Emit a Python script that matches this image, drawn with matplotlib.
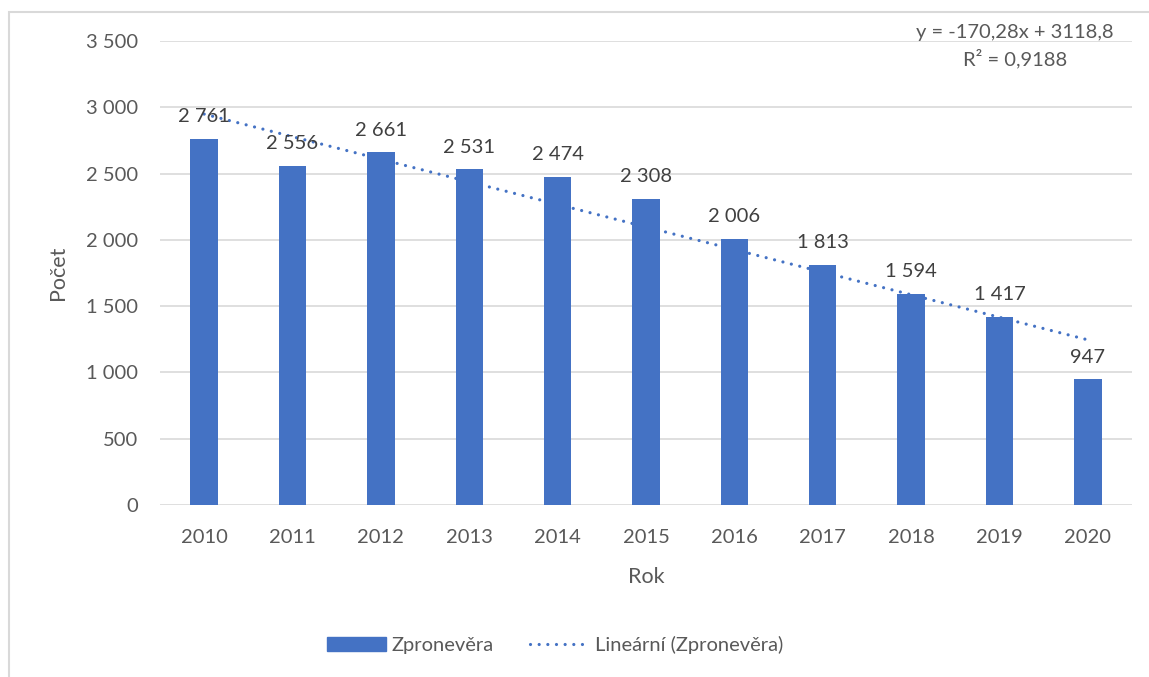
import numpy as np
import matplotlib.pyplot as plt
from matplotlib.patches import Rectangle
from matplotlib.lines import Line2D

plt.rcParams['font.family'] = ['Lato', 'DejaVu Sans']

years = ["2010", "2011", "2012", "2013", "2014", "2015",
         "2016", "2017", "2018", "2019", "2020"]
counts = [2761, 2556, 2661, 2531, 2474, 2308, 2006, 1813, 1594, 1417, 947]

# linear trend as reported by the spreadsheet (x = 1..11)
slope = -170.28
intercept = 3118.8
r2 = 0.9188

bar_color = "#4472C4"
text_color = "#595959"
grid_color = "#D9D9D9"
dots = (0, (0.01, 2.7))


def fmt_num(v):
    return f"{v:,.0f}".replace(",", " ")


fig = plt.figure(figsize=(11.49, 6.77), dpi=100)
ax = fig.add_axes([160 / 1149, 1 - 505 / 677, (1132 - 160) / 1149, (505 - 41) / 677])

x = np.arange(len(years))
ax.bar(x, counts, width=0.31, color=bar_color, zorder=3)

for xi, v in zip(x, counts):
    ax.annotate(fmt_num(v), (xi, v), xytext=(0, 12), textcoords="offset points",
                ha="center", va="baseline", fontsize=14.5, color="#404040", zorder=5)

trend_x = np.arange(1, len(years) + 1)
trend_y = slope * trend_x + intercept
ax.plot(x, trend_y, linestyle=dots, linewidth=2.3, color=bar_color,
        dash_capstyle="round", zorder=4)

ax.set_xlim(-0.5, len(years) - 0.5)
ax.set_ylim(0, 3500)
ax.set_yticks(np.arange(0, 3501, 500))
ax.set_yticklabels([fmt_num(v) for v in np.arange(0, 3501, 500)])
ax.set_xticks(x)
ax.set_xticklabels(years)
ax.tick_params(axis="both", length=0, labelsize=14.5, labelcolor=text_color)
ax.tick_params(axis="y", pad=16)
ax.tick_params(axis="x", pad=17.5)

ax.grid(axis="y", color=grid_color, linewidth=1.2, zorder=0)
for s in ax.spines.values():
    s.set_visible(False)

ax.set_xlabel("Rok", fontsize=15.5, color=text_color, labelpad=15)
ax.set_ylabel("Počet", fontsize=15.5, color=text_color, labelpad=13)

fig.text(1015 / 1149, 1 - 46 / 677,
         f"y = {slope:.2f}x + {intercept:.1f}\nR² = {r2:.4f}".replace(".", ","),
         ha="center", va="center", fontsize=14.5, color=text_color, linespacing=1.45)

# chart frame
fig.patches.append(Rectangle((9 / 1149, -0.01), 1.2, 1 - 12 / 677 + 0.01,
                             transform=fig.transFigure, fill=False,
                             edgecolor=grid_color, linewidth=1.5))

handles = [Rectangle((0, 0), 1, 1, color=bar_color),
           Line2D([0], [0], linestyle=dots, linewidth=2.3, color=bar_color,
                  dash_capstyle="round")]
fig.legend(handles, ["Zpronevěra", "Lineární (Zpronevěra)"],
           loc="center", bbox_to_anchor=(555 / 1149, 1 - 645 / 677), ncol=2,
           frameon=False, fontsize=14.5, labelcolor=text_color,
           handlelength=2.9, handleheight=0.7, handletextpad=0.3, columnspacing=1.8)

fig.savefig("out.png", dpi=100)
